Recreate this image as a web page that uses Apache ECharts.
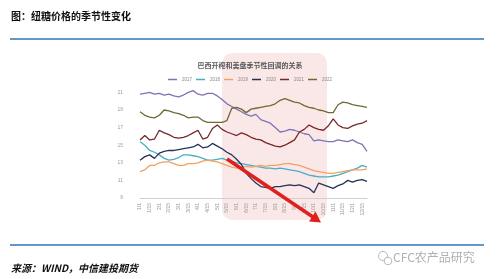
<!DOCTYPE html>
<html><head><meta charset="utf-8">
<script src="https://cdn.jsdelivr.net/npm/echarts@6/dist/echarts.min.js"></script>
<style>html,body{margin:0;padding:0;background:#fff}#c{width:500px;height:279px}</style>
</head><body><div id="c"></div>
<script>
// ---- data ----
const dates = [];
for (let m = 1; m <= 12; m++) { [1, 8, 15, 22].forEach(d => dates.push(m + '/' + d)); }
const years = ['2017', '2018', '2019', '2020', '2021', '2022'];
const s2017 = [20.8,20.9,21.0,20.8,20.9,20.7,20.8,20.6,20.5,20.7,21.0,21.2,20.8,20.7,20.9,20.9,20.6,20.2,19.7,19.4,19.1,18.8,18.5,18.3,18.5,17.9,17.7,17.5,17.0,16.5,16.6,16.8,16.7,16.5,16.3,16.2,15.5,15.6,15.5,15.4,15.4,15.6,15.5,15.4,15.6,15.3,15.1,14.3];
const s2018 = [15.4,15.0,14.4,14.2,13.9,13.5,13.3,13.4,13.6,13.9,13.9,13.8,13.7,13.5,13.3,13.3,13.4,13.5,13.3,13.2,13.0,12.9,12.8,12.7,12.6,12.5,12.4,12.4,12.3,12.4,12.3,12.2,12.1,12.0,11.8,11.6,11.5,11.4,11.4,11.4,11.5,11.6,11.8,12.0,12.2,12.4,12.7,12.5];
const s2019 = [12.0,12.2,12.7,12.7,13.0,13.1,13.1,12.9,12.7,12.7,12.9,12.9,13.0,13.2,13.3,13.2,13.1,12.9,12.7,12.5,12.4,12.5,12.6,12.5,12.6,12.7,12.6,12.7,12.7,12.8,12.9,12.9,12.8,12.7,12.5,12.3,12.1,12.0,11.9,11.8,11.8,11.9,12.0,12.1,12.2,12.2,12.2,12.3];
const s2020 = [13.3,13.7,13.9,13.5,14.1,14.3,14.4,14.4,14.5,14.6,14.7,14.8,15.1,14.7,14.8,15.2,14.9,14.6,14.2,13.9,13.4,12.8,11.8,11.2,10.7,10.3,10.2,10.1,10.3,10.3,10.4,10.5,10.4,10.5,10.3,10.1,9.6,10.7,10.5,10.3,10.1,10.4,10.6,11.0,10.8,11.0,11.1,10.9];
const s2021 = [15.6,16.1,15.6,15.7,16.7,16.4,16.2,15.9,15.8,15.9,16.1,16.4,16.7,15.7,15.9,16.9,17.3,16.8,16.5,16.3,16.1,16.4,16.2,15.9,15.7,15.6,15.3,15.1,14.9,14.8,15.0,15.3,15.6,16.5,16.8,17.3,17.0,16.8,16.7,17.2,18.0,17.3,17.0,16.9,17.2,17.4,17.5,17.8];
const s2022 = [18.8,18.4,18.2,18.1,18.4,19.0,18.9,18.7,18.6,18.4,18.1,18.2,18.2,17.8,17.6,17.6,17.6,17.6,17.8,19.2,19.3,19.1,18.7,19.1,19.2,19.3,19.4,19.5,19.7,20.1,20.3,20.1,19.9,19.8,19.5,19.3,19.2,19.0,18.9,18.7,18.7,19.6,19.9,19.8,19.6,19.5,19.4,19.3];
const seriesData = [s2017, s2018, s2019, s2020, s2021, s2022];
const colors = ['#7e73b5', '#4bacc6', '#f4a160', '#253356', '#7a2626', '#6f6a33'];

const chart = echarts.init(document.getElementById('c'));
chart.setOption({
  animation: false,
  title: {
    text: '巴西开榨和美盘季节性回调的关系',
    left: 'center', top: 57,
    textStyle: { fontSize: 7, color: '#595959', fontWeight: 'bold', fontFamily: 'Noto Sans CJK SC' }
  },
  legend: {
    top: 72, left: 'center',
    itemWidth: 9, itemHeight: 1.5, itemGap: 4,
    icon: 'rect',
    textStyle: { fontSize: 4.5, color: '#888' },
    data: years
  },
  grid: { left: 140, right: 133, top: 88, bottom: 81 },
  xAxis: {
    type: 'category', data: dates, boundaryGap: false,
    axisLine: { lineStyle: { color: '#d0d0d0' } },
    axisTick: { show: false },
    axisLabel: { rotate: 90, interval: 1, fontSize: 5, color: '#9a9a9a', margin: 5 }
  },
  yAxis: {
    type: 'value', min: 9, max: 21.5, interval: 2,
    splitLine: { show: false },
    axisLine: { show: false }, axisTick: { show: false },
    axisLabel: { fontSize: 5, color: '#9a9a9a', margin: 17, showMaxLabel: false }
  },
  series: years.map((y, i) => ({
    name: y, type: 'line', data: seriesData[i], showSymbol: false, symbol: 'none',
    lineStyle: { width: 1.3, color: colors[i] }, itemStyle: { color: colors[i] }, z: 3
  })),
  graphic: [
    { type: 'text', left: 11, top: 11, z: 10,
      style: { text: '图：纽糖价格的季节性变化', fontSize: 10, fontWeight: 'bold', fill: '#111', fontFamily: 'Noto Sans CJK SC' } },
    { type: 'line', z: 10, shape: { x1: 10, y1: 39, x2: 484, y2: 39 }, style: { stroke: '#2e75b6', lineWidth: 1.5 } },
    { type: 'line', z: 10, shape: { x1: 10, y1: 245, x2: 484, y2: 245 }, style: { stroke: '#2e75b6', lineWidth: 1.5 } },
    { type: 'text', left: 11, top: 263, z: 10,
      style: { text: '来源：WIND，中信建投期货', fontSize: 10, fontWeight: 'bold', fontStyle: 'italic', fill: '#111', fontFamily: 'Noto Sans CJK SC' } },
    { type: 'text', left: 393, top: 251, z: 10,
      style: { text: 'CFC农产品研究', fontSize: 12, fill: '#b0b0b0', fontFamily: 'Noto Sans CJK SC' } },
    { type: 'circle', z: 10, shape: { cx: 383, cy: 256, r: 4.5 }, style: { fill: 'none', stroke: '#b8b8b8', lineWidth: 1 } },
    { type: 'circle', z: 10, shape: { cx: 388, cy: 261, r: 3.8 }, style: { fill: '#fff', stroke: '#b8b8b8', lineWidth: 1 } },
    { type: 'rect', z: -10, shape: { x: 222, y: 53, width: 105, height: 167, r: 10 }, style: { fill: 'rgba(240,190,190,0.35)' } },
    { type: 'line', z: 20, shape: { x1: 227, y1: 159, x2: 313, y2: 217 }, style: { stroke: '#e0201c', lineWidth: 3.5 } },
    { type: 'polygon', z: 20, shape: { points: [[321, 222.5], [309, 221.5], [315.5, 211.5]] }, style: { fill: '#e0201c' } }
  ]
});
</script></body></html>
